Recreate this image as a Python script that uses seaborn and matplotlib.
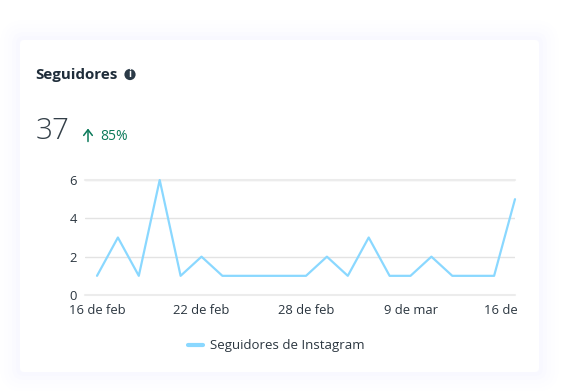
import matplotlib
matplotlib.use("Agg")
import matplotlib.pyplot as plt
from matplotlib.patches import FancyBboxPatch, Circle
from matplotlib.transforms import ScaledTranslation
import seaborn as sns
import pandas as pd

days = list(range(21))
followers = [1, 3, 1, 6, 1, 2, 1, 1, 1, 1, 1, 2, 1, 3, 1, 1, 2, 1, 1, 1, 5]
x_tick_pos = [0, 5, 10, 15, 20]
x_tick_labels = ["16 de feb", "22 de feb", "28 de feb", "9 de mar", "16 de"]
y_ticks = [0, 2, 4, 6]
series_name = "Seguidores de Instagram"

W, H = 578, 391
TEXT = "#2b3640"
sns.set_theme(style="white")
plt.rcParams["font.family"] = ["Open Sans", "DejaVu Sans"]

fig = plt.figure(figsize=(W / 100, H / 100), dpi=100, facecolor="white")

# full-figure pixel overlay for the card
bg = fig.add_axes([0, 0, 1, 1], zorder=0)
bg.set_xlim(0, W); bg.set_ylim(H, 0); bg.axis("off")
for grow, a in [(20, 0.005), (16, 0.006), (12, 0.008), (8, 0.010), (4, 0.012)]:
    bg.add_patch(FancyBboxPatch((20 - grow, 40 - grow), 519 + 2 * grow, 332 + 2 * grow,
                                boxstyle="round,pad=0,rounding_size=%d" % (grow + 4),
                                fc="#8f9bff", ec="none", alpha=a))
bg.add_patch(FancyBboxPatch((20, 40), 519, 332, boxstyle="round,pad=0,rounding_size=4",
                            fc="white", ec="none"))

bg.text(35.5, 75, "Seguidores", fontsize=10.9, fontweight="bold", color="#1f2d3a", va="center", ha="left")
bg.add_patch(Circle((130, 74.5), 5.6, fc="#2b3a47", ec="none"))
bg.text(130, 74.5, "i", fontsize=7, fontweight="bold", color="white", va="center", ha="center")
bg.text(36, 131, "37", fontsize=21.3, fontweight="light", color="#333f48", va="center", ha="left")
bg.annotate("", xy=(88, 128.5), xytext=(88, 141.5),
            arrowprops=dict(arrowstyle="->,head_width=0.26,head_length=0.34", color="#0b7a5a", lw=1.1,
                            shrinkA=0, shrinkB=0))
bg.text(100, 136, "85%", fontsize=10, color="#0b7a5a", va="center", ha="left")

ax = fig.add_axes([85 / W, 1 - 295 / H, 430 / W, 115 / H], zorder=1)
ax.patch.set_alpha(0)
df = pd.DataFrame({"day": days, "value": followers})
sns.lineplot(data=df, x="day", y="value", ax=ax, color="#8ad8ff", linewidth=1.6,
             label=series_name, legend=False, clip_on=False, zorder=3)
ax.set_xlim(-12 / 20.9, 20)
ax.set_ylim(0, 6)
ax.set_xlabel(""); ax.set_ylabel("")
ax.set_yticks(y_ticks)
ax.set_xticks(x_tick_pos)
ax.set_xticklabels(x_tick_labels)
ax.tick_params(axis="both", length=0, labelsize=9.4, labelcolor=TEXT)
ax.tick_params(axis="x", pad=6.5)
ax.tick_params(axis="y", pad=6)
ax.yaxis.grid(True, color="#e3e3e3", lw=1.0)
ax.xaxis.grid(False)
for s in ["top", "right", "left", "bottom"]:
    ax.spines[s].set_visible(False)
for v in (0, 6):
    ax.axhline(v, color="#ececec", lw=1.5, zorder=1, clip_on=False)

# last date label ends at the edge of the plot, as in the reference
last = ax.get_xticklabels()[-1]
last.set_ha("right")
last.set_transform(last.get_transform() + ScaledTranslation(3 / 100, 0, fig.dpi_scale_trans))

# legend
leg_line = plt.Line2D([], [], color="#8ad8ff", lw=3.0, solid_capstyle="round")
bg.legend([leg_line], [series_name], loc="center", bbox_to_anchor=(276.5, 346),
          bbox_transform=bg.transData, frameon=False, fontsize=9.5, labelcolor=TEXT,
          handlelength=1.1, handletextpad=0.55)

fig.savefig("out.png", dpi=100, facecolor="white")
